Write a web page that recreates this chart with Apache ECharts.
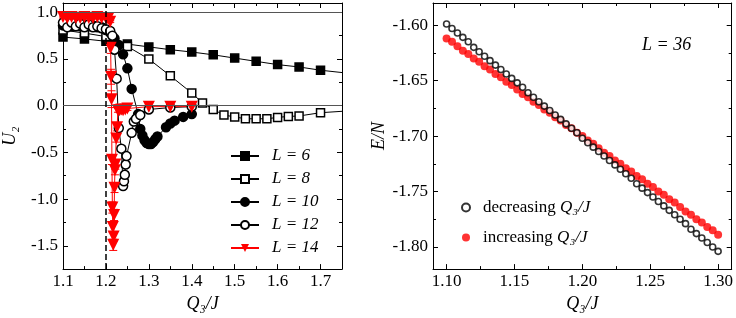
<!DOCTYPE html>
<html><head><meta charset="utf-8">
<script src="https://cdn.jsdelivr.net/npm/echarts@6/dist/echarts.min.js"></script>
<style>html,body{margin:0;padding:0;background:#fff}#c{width:736px;height:318px}</style>
</head><body><div id="c"></div>
<script>
// ---------------- data (left panel: U2 vs Q3/J) ----------------
const L6x = [1.10,1.15,1.20,1.25,1.30,1.35,1.40,1.45,1.50,1.55,1.60,1.65,1.70,1.80];
const L6y = [0.735,0.715,0.69,0.66,0.63,0.60,0.575,0.545,0.51,0.475,0.44,0.415,0.38,0.33];

const L8x = [1.10,1.15,1.20,1.25,1.30,1.35,1.40,1.425,1.45,1.475,1.50,1.525,1.55,1.575,1.60,1.625,1.65,1.70,1.80];
const L8y = [0.81,0.778,0.74,0.635,0.50,0.32,0.136,0.03,-0.04,-0.10,-0.12,-0.14,-0.14,-0.14,-0.125,-0.115,-0.11,-0.075,-0.045];

const L10x = [1.10,1.11,1.12,1.13,1.14,1.15,1.16,1.17,1.18,1.19,1.20,1.21,1.22,1.23,1.24,1.25,1.26,1.275,1.28,1.285,1.29,1.295,1.30,1.305,1.31,1.315,1.32,1.34,1.35,1.36,1.38,1.40];
const L10y = [0.86,0.88,0.85,0.88,0.85,0.87,0.85,0.86,0.84,0.84,0.81,0.78,0.72,0.65,0.55,0.40,0.18,-0.09,-0.25,-0.32,-0.37,-0.40,-0.41,-0.41,-0.39,-0.36,-0.33,-0.23,-0.19,-0.16,-0.12,-0.09];

const L12x = [1.10,1.11,1.12,1.13,1.14,1.15,1.16,1.17,1.18,1.19,1.20,1.21,1.215,1.22,1.225,1.23,1.236,1.240,1.242,1.244,1.246,1.248,1.26,1.265,1.27,1.28,1.30,1.35,1.40];
const L12y = [0.89,0.84,0.89,0.85,0.88,0.84,0.87,0.84,0.85,0.83,0.82,0.80,0.75,0.60,0.29,-0.24,-0.46,-0.86,-0.81,-0.74,-0.63,-0.54,-0.29,-0.17,-0.14,-0.10,-0.04,-0.02,-0.01];
const L12e = [0.01,0.01,0.01,0.01,0.01,0.01,0.01,0.01,0.01,0.01,0.01,0.01,0.02,0.02,0.03,0.03,0.03,0.03,0.03,0.03,0.03,0.03,0.02,0.02,0.02,0.02,0.01,0.01,0.01];

const L14x = [1.10,1.11,1.12,1.13,1.14,1.15,1.16,1.17,1.18,1.19,1.20,1.205,1.21,1.211,1.212,1.213,1.214,1.215,1.216,1.217,1.218,1.219,1.220,1.221,1.222,1.224,1.226,1.228,1.232,1.236,1.24,1.245,1.25,1.30,1.35,1.40];
const L14y = [0.95,0.94,0.95,0.94,0.94,0.95,0.94,0.94,0.95,0.94,0.94,0.93,0.90,0.62,0.31,0.07,-0.58,-1.09,-1.30,-1.49,-1.40,-1.17,-0.88,-0.69,-0.63,-0.35,-0.23,-0.05,-0.05,-0.04,-0.05,-0.04,-0.03,-0.01,-0.01,-0.01];
const L14e = [0.01,0.01,0.01,0.01,0.01,0.01,0.01,0.01,0.01,0.01,0.01,0.01,0.01,0.06,0.08,0.09,0.05,0.06,0.06,0.06,0.05,0.06,0.05,0.05,0.05,0.04,0.04,0.02,0.02,0.02,0.02,0.02,0.02,0.01,0.01,0.01];

const leftRefY = [0, 1.0];        // thin grey reference lines
const leftDashX = 1.196;          // vertical dashed line

const leftXMajor = [1.1,1.2,1.3,1.4,1.5,1.6,1.7];
const leftXMinor = [1.15,1.25,1.35,1.45,1.55,1.65];
const leftYMajor = [-1.5,-1.0,-0.5,0.0,0.5,1.0];
const leftYMinor = [-1.25,-0.75,-0.25,0.25,0.75];

// ---------------- data (right panel: E/N vs Q3/J, L = 36) ----------------
const Qx = [1.100,1.104,1.108,1.112,1.116,1.120,1.124,1.128,1.132,1.136,1.140,1.144,1.148,1.152,1.156,1.160,1.164,1.168,1.172,1.176,1.180,1.184,1.188,1.192,1.196,1.200,1.204,1.208,1.212,1.216,1.220,1.224,1.228,1.232,1.236,1.240,1.244,1.248,1.252,1.256,1.260,1.264,1.268,1.272,1.276,1.280,1.284,1.288,1.292,1.296,1.300];
const decE = [-1.599,-1.603,-1.607,-1.611,-1.615,-1.620,-1.624,-1.628,-1.632,-1.636,-1.640,-1.644,-1.648,-1.652,-1.656,-1.661,-1.665,-1.669,-1.673,-1.677,-1.681,-1.685,-1.689,-1.693,-1.697,-1.702,-1.706,-1.710,-1.714,-1.718,-1.722,-1.726,-1.730,-1.734,-1.738,-1.743,-1.747,-1.751,-1.755,-1.759,-1.763,-1.767,-1.771,-1.775,-1.779,-1.784,-1.788,-1.792,-1.796,-1.800,-1.804];
const incE = [-1.612,-1.615,-1.619,-1.623,-1.626,-1.630,-1.633,-1.637,-1.640,-1.644,-1.647,-1.651,-1.654,-1.658,-1.662,-1.665,-1.669,-1.672,-1.676,-1.679,-1.683,-1.686,-1.690,-1.693,-1.697,-1.700,-1.704,-1.707,-1.711,-1.715,-1.718,-1.722,-1.725,-1.729,-1.732,-1.736,-1.739,-1.743,-1.746,-1.750,-1.753,-1.757,-1.760,-1.764,-1.768,-1.771,-1.775,-1.778,-1.782,-1.785,-1.789];

const rightXMajor = [1.10,1.15,1.20,1.25,1.30];
const rightXMinor = [1.125,1.175,1.225,1.275];
const rightYMajor = [-1.80,-1.75,-1.70,-1.65,-1.60];
const rightYMinor = [-1.775,-1.725,-1.675,-1.625];

// ---------------- chart ----------------
const FONT = '"Liberation Serif", "Times New Roman", serif';
const TICKFS = 17;
const zip = (xs, ys) => xs.map((x, i) => [x, ys[i]]);
const zip3 = (xs, ys, es) => xs.map((x, i) => [x, ys[i], es[i]]);

function xAxes(g, min, max, major, minor, dec, name) {
  const base = {type:'value', gridIndex:g, min, max, splitLine:{show:false},
    axisLine:{show:true, onZero:false, lineStyle:{color:'#000', width:1}}};
  const fmt = v => v.toFixed(dec);
  return [
    Object.assign({}, base, {position:'bottom', name, nameLocation:'middle', nameGap:22,
      nameTextStyle:{fontFamily:FONT, fontSize:18, fontStyle:'italic', color:'#000'},
      axisTick:{inside:true, length:5, customValues:major, lineStyle:{color:'#000'}},
      axisLabel:{customValues:major, formatter:fmt, margin:4, fontFamily:FONT, fontSize:TICKFS, color:'#000'}}),
    Object.assign({}, base, {position:'top',
      axisTick:{inside:true, length:5, customValues:major, lineStyle:{color:'#000'}},
      axisLabel:{show:false}}),
    Object.assign({}, base, {position:'bottom', axisLine:{show:false, onZero:false},
      axisTick:{inside:true, length:3, customValues:minor, lineStyle:{color:'#000'}},
      axisLabel:{show:false}}),
    Object.assign({}, base, {position:'top', axisLine:{show:false, onZero:false},
      axisTick:{inside:true, length:3, customValues:minor, lineStyle:{color:'#000'}},
      axisLabel:{show:false}})
  ];
}
function yAxes(g, min, max, major, minor, dec, name, gap) {
  const base = {type:'value', gridIndex:g, min, max, splitLine:{show:false},
    axisLine:{show:true, onZero:false, lineStyle:{color:'#000', width:1}}};
  const fmt = v => v.toFixed(dec);
  return [
    Object.assign({}, base, {position:'left', name, nameLocation:'middle', nameGap:gap, nameRotate:90,
      nameTextStyle:{fontFamily:FONT, fontSize:18, fontStyle:'italic', color:'#000'},
      axisTick:{inside:true, length:5, customValues:major, lineStyle:{color:'#000'}},
      axisLabel:{customValues:major, formatter:fmt, margin:5, fontFamily:FONT, fontSize:TICKFS, color:'#000'}}),
    Object.assign({}, base, {position:'right',
      axisTick:{inside:true, length:5, customValues:major, lineStyle:{color:'#000'}},
      axisLabel:{show:false}}),
    Object.assign({}, base, {position:'left', axisLine:{show:false, onZero:false},
      axisTick:{inside:true, length:3, customValues:minor, lineStyle:{color:'#000'}},
      axisLabel:{show:false}}),
    Object.assign({}, base, {position:'right', axisLine:{show:false, onZero:false},
      axisTick:{inside:true, length:3, customValues:minor, lineStyle:{color:'#000'}},
      axisLabel:{show:false}})
  ];
}

function errSeries(name, data, color) {
  return {
    name, type:'custom', xAxisIndex:0, yAxisIndex:0, silent:true, z:1,
    data,
    renderItem(params, api) {
      const x = api.value(0), y = api.value(1), e = api.value(2);
      const t = api.coord([x, y + e]), b = api.coord([x, y - e]);
      const w = 4, st = {stroke:color, lineWidth:1};
      return {type:'group', children:[
        {type:'line', shape:{x1:t[0], y1:t[1], x2:b[0], y2:b[1]}, style:st},
        {type:'line', shape:{x1:t[0]-w, y1:t[1], x2:t[0]+w, y2:t[1]}, style:st},
        {type:'line', shape:{x1:b[0]-w, y1:b[1], x2:b[0]+w, y2:b[1]}, style:st}
      ]};
    }
  };
}

function lineSeries(name, data, symbol, size, fill, stroke, extra) {
  return Object.assign({
    name, type:'line', xAxisIndex:0, yAxisIndex:0, data, symbol, symbolSize:size,
    showAllSymbol:true, clip:true, z:3,
    lineStyle:{color:stroke, width:1},
    itemStyle:{color:fill, borderColor:stroke, borderWidth:1.5},
    emphasis:{disabled:true}
  }, extra || {});
}

const chart = echarts.init(document.getElementById('c'), null, {renderer:'canvas'});
const option = {
  animation:false,
  backgroundColor:'#fff',
  textStyle:{fontFamily:FONT},
  grid:[
    {left:60, top:3, width:282, height:270},
    {left:433, top:3, width:300, height:270}
  ],
  xAxis: xAxes(0, 1.1, 1.75, leftXMajor, leftXMinor, 1, 'Q₃/J')
    .concat(xAxes(1, 1.09, 1.31, rightXMajor, rightXMinor, 2, 'Q₃/J')),
  yAxis: yAxes(0, -1.75, 1.1, leftYMajor, leftYMinor, 1, 'U₂', 44)
    .concat(yAxes(1, -1.82, -1.58, rightYMajor, rightYMinor, 2, 'E/N', 40)),
  legend:[
    {data:['L = 6','L = 8','L = 10','L = 12','L = 14'], orient:'vertical', left:225, top:142,
     itemWidth:28, itemHeight:10, itemGap:5, selectedMode:false,
     textStyle:{fontFamily:FONT, fontSize:17, fontStyle:'italic', color:'#000', lineHeight:18, padding:[0,0,0,8]}},
    {data:['decreasing','increasing'], orient:'vertical', left:456, top:194, itemWidth:12, itemHeight:8, itemGap:13,
     selectedMode:false,
     formatter: n => '{u|' + n + ' }{i|Q₃/J}',
     textStyle:{fontFamily:FONT, fontSize:17, color:'#000', padding:[0,0,0,6],
       rich:{u:{fontFamily:FONT, fontSize:17, color:'#000'}, i:{fontFamily:FONT, fontSize:17, fontStyle:'italic', color:'#000'}}}}
  ],
  graphic:[
    {type:'text', left:642, top:36, silent:true,
     style:{text:'L = 36', font:'italic 18px "Liberation Serif"', fill:'#000'}}
  ],
  series:[
    {name:'ref', type:'line', xAxisIndex:0, yAxisIndex:0, data:[], silent:true, z:2,
     markLine:{silent:true, symbol:'none', label:{show:false},
       data: leftRefY.map(v => ({yAxis:v, lineStyle:{color:'#555', width:1, type:'solid'}}))
         .concat([{xAxis:leftDashX, lineStyle:{color:'#000', width:1.5, type:[6,3]}}])}},
    lineSeries('L = 6', zip(L6x, L6y), 'rect', 8, '#000', '#000'),
    lineSeries('L = 8', zip(L8x, L8y), 'rect', 8, '#fff', '#000'),
    lineSeries('L = 10', zip(L10x, L10y), 'circle', 9, '#000', '#000'),
    errSeries('L12err', zip3(L12x, L12y, L12e), '#000'),
    lineSeries('L = 12', zip(L12x, L12y), 'circle', 9, '#fff', '#000'),
    errSeries('L14err', zip3(L14x, L14y, L14e), '#ff0000'),
    lineSeries('L = 14', zip(L14x, L14y), 'triangle', 12, '#ff0000', '#ff0000', {symbolRotate:180, itemStyle:{color:'#ff0000', borderWidth:0}}),
    {name:'increasing', type:'scatter', xAxisIndex:4, yAxisIndex:4, data:zip(Qx, incE), symbol:'circle', symbolSize:8,
     itemStyle:{color:'#ff0000'}, emphasis:{disabled:true}},
    {name:'decreasing', type:'scatter', xAxisIndex:4, yAxisIndex:4, data:zip(Qx, decE), symbol:'circle', symbolSize:6,
     itemStyle:{color:'#fff', borderColor:'#000', borderWidth:1.6}, emphasis:{disabled:true}}
  ]
};
chart.setOption(option);
</script>
</body></html>
